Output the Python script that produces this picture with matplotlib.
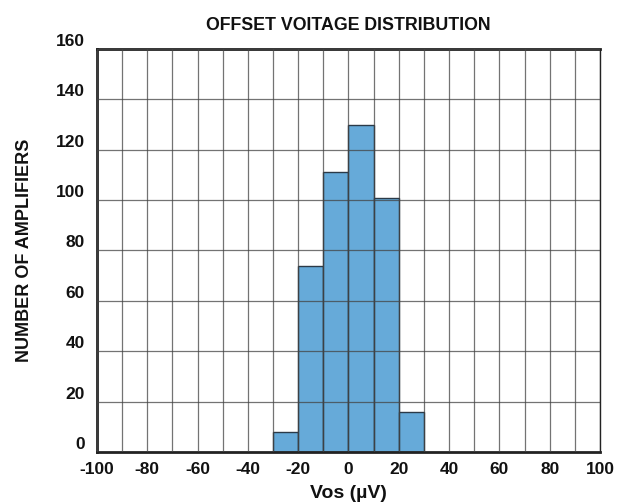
import matplotlib
matplotlib.use("Agg")
import matplotlib.pyplot as plt
import numpy as np

plt.rcParams['font.family'] = ['Liberation Sans', 'DejaVu Sans']
plt.rcParams['axes.unicode_minus'] = False

bin_left = [-30, -20, -10, 0, 10, 20]
counts = [8, 74, 111, 130, 101, 16]
bin_width = 10
x_ticks = [-100, -80, -60, -40, -20, 0, 20, 40, 60, 80, 100]
y_ticks = [0, 20, 40, 60, 80, 100, 120, 140, 160]

fig = plt.figure(figsize=(6.23, 5.04), dpi=100)
ax = fig.add_axes([0.1557, 0.1032, 0.8073, 0.7996])

ax.bar(bin_left, counts, width=bin_width, align='edge', color='#66aad9',
       edgecolor='#2b3a48', linewidth=1.0, zorder=2)

ax.set_xlim(-100, 100)
ax.set_ylim(0, 160)
ax.set_xticks(x_ticks)
ax.set_yticks(y_ticks)
ax.set_xticks(np.arange(-100, 101, 10), minor=True)
ax.grid(which='both', axis='x', color='#444444', linewidth=0.9, alpha=0.75, zorder=3)
ax.grid(which='major', axis='y', color='#444444', linewidth=0.9, alpha=0.75, zorder=3)
ax.set_axisbelow(False)
ax.tick_params(which='both', length=0)
ax.tick_params(axis='x', pad=7)
ax.tick_params(axis='y', pad=9)
for lab in ax.get_xticklabels() + ax.get_yticklabels():
    lab.set_fontsize(12.5)
    lab.set_fontweight('bold')
    lab.set_color('#111111')
for lab in ax.get_yticklabels():
    lab.set_verticalalignment('bottom')

for s in ax.spines.values():
    s.set_linewidth(1.0)
    s.set_color('#222222')
ax.spines['left'].set_linewidth(2.0)
ax.spines['bottom'].set_linewidth(2.0)
ax.spines['top'].set_linewidth(2.0)

ax.set_title('OFFSET VOITAGE DISTRIBUTION', fontsize=12.8, fontweight='bold', pad=14, color='#111111')
ax.set_xlabel('Vos (µV)', fontsize=14, fontweight='bold', labelpad=6, color='#111111')
ax.set_ylabel('NUMBER OF AMPLIFIERS', fontsize=13, fontweight='bold', labelpad=16, color='#111111')

fig.savefig('out.png', dpi=100)
